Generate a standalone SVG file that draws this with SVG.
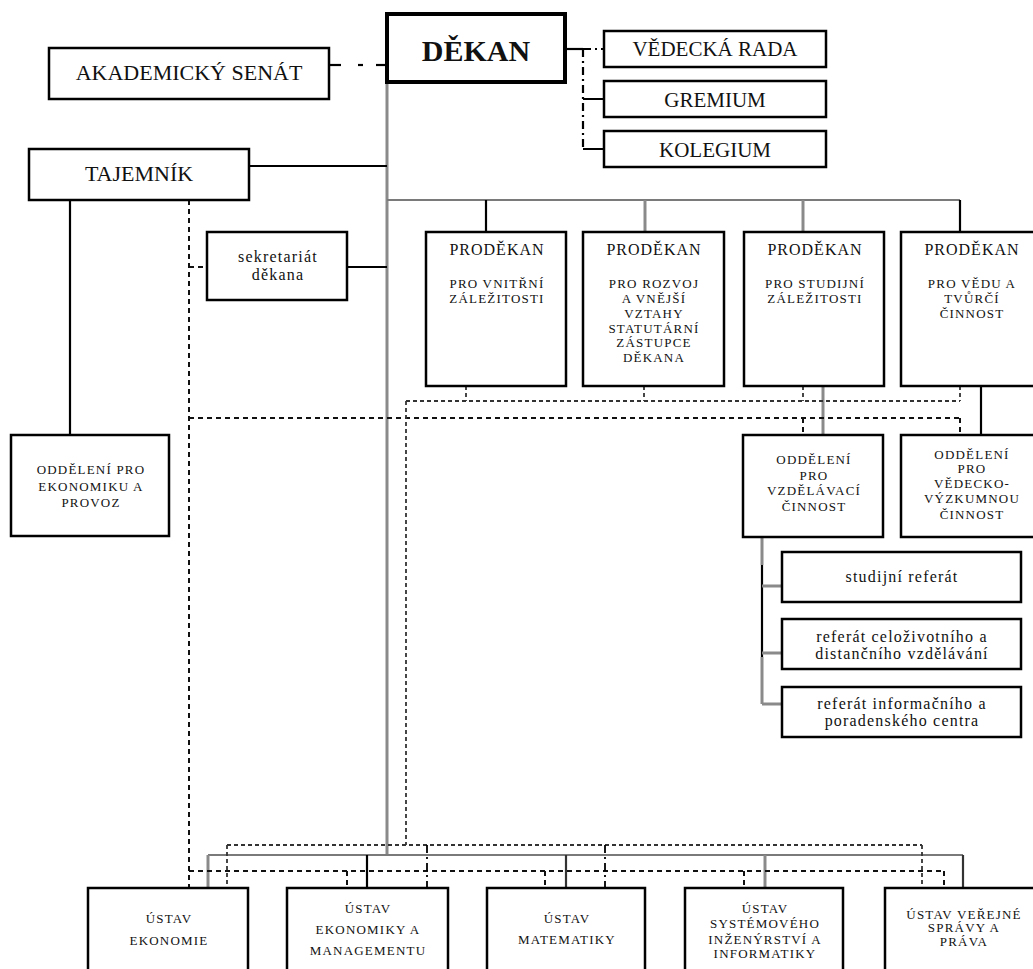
<svg xmlns="http://www.w3.org/2000/svg" width="1033" height="969" viewBox="0 0 1033 969">
<style>
.box{fill:#fff;stroke:#000;stroke-width:2.5}
.t{font-family:"Liberation Serif","Times New Roman",serif;fill:#111;text-anchor:middle}
.big{font-size:22px}
.pd{font-size:16px;letter-spacing:1px}
.sm{font-size:13px;letter-spacing:1.2px}
.lc{font-size:16px;letter-spacing:1.2px}
.k{fill:none;stroke:#000;stroke-width:2.2}
.g{fill:none;stroke:#8a8a8a;stroke-width:3}
.gt{fill:none;stroke:#7a7a7a;stroke-width:2}
.d1{fill:none;stroke:#111;stroke-width:2;stroke-dasharray:5 4}
.d2{fill:none;stroke:#333;stroke-width:1.8;stroke-dasharray:4 3}
.dd{fill:none;stroke:#000;stroke-width:2.2;stroke-dasharray:8 4 2 4}
</style>
<rect width="1033" height="969" fill="#fff"/>
<g id="connectors">
  <path class="k" d="M329 65 H341"/>
  <path class="k" d="M358 65 H363"/>
  <path class="k" d="M376 65 H387"/>
  <path class="k" d="M565 49 H583"/>
  <path class="dd" d="M583 49 H604"/>
  <path class="dd" d="M583 49 V149"/>
  <path class="k" d="M583 99 H604 M583 149 H604"/>
  <path class="g" d="M387 82 V855"/>
  <path class="k" d="M249 166 H387"/>
  <path class="k" d="M347 267 H387"/>
  <path class="k" d="M70 200 V435"/>
  <path class="gt" d="M387 200 H960"/>
  <path class="k" d="M486 200 V232"/>
  <path class="g" d="M645 200 V232"/>
  <path class="g" d="M803 200 V232"/>
  <path class="k" d="M960 200 V232"/>
  <path class="g" d="M823 386 V435"/>
  <path class="k" d="M981 386 V435"/>
  <path class="g" d="M762 537 V565"/>
  <path class="k" d="M762 565 V657"/>
  <path class="g" d="M762 657 V704"/>
  <path class="g" d="M762 586 H782 M762 653 H782 M762 704 H782"/>
  <path class="gt" d="M208 855 H963"/>
  <path class="g" d="M208 855 V888"/>
  <path class="k" d="M367 855 V888"/>
  <path class="k" d="M566 855 V888" style="stroke:#333"/>
  <path class="g" d="M765 855 V888"/>
  <path class="k" d="M963 855 V888" style="stroke:#333"/>
  <path class="d1" d="M189 200 V888"/>
  <path class="d1" d="M189 267 H207"/>
  <path class="d1" d="M189 418 H960"/>
  <path class="d1" d="M803 418 V435 M960 418 V435"/>
  <path class="d1" d="M189 871 H944"/>
  <path class="d1" d="M347 871 V888 M545 871 V888 M744 871 V888 M944 871 V888"/>
  <path class="d2" d="M466 386 V401 M644 386 V401 M803 386 V401 M960 386 V401"/>
  <path class="d2" d="M406 401 H960"/>
  <path class="d2" d="M406 401 V845"/>
  <path class="d2" d="M227 845 H922"/>
  <path class="d2" d="M227 845 V888 M922 845 V888"/>
  <path class="dd" d="M427 845 V888 M605 845 V888" style="stroke-width:1.8"/>
</g>
<g id="akademicky-senat">
  <rect class="box" x="49" y="48" width="280" height="51"/>
  <text class="t big" x="189" y="80">AKADEMICKÝ SENÁT</text>
</g>
<g id="dekan">
  <rect class="box" x="387" y="14" width="178" height="68" style="stroke-width:4"/>
  <text class="t" x="476" y="61" style="font-size:30px;font-weight:bold">DĚKAN</text>
</g>
<g id="vedecka-rada">
  <rect class="box" x="604" y="31" width="222" height="36"/>
  <text class="t" x="715" y="56" style="font-size:21px">VĚDECKÁ RADA</text>
</g>
<g id="gremium">
  <rect class="box" x="604" y="81" width="222" height="36"/>
  <text class="t" x="715" y="107" style="font-size:21px">GREMIUM</text>
</g>
<g id="kolegium">
  <rect class="box" x="604" y="131" width="222" height="36"/>
  <text class="t" x="715" y="157" style="font-size:21px">KOLEGIUM</text>
</g>
<g id="tajemnik">
  <rect class="box" x="29" y="149" width="220" height="51"/>
  <text class="t big" x="139" y="181">TAJEMNÍK</text>
</g>
<g id="sekretariat">
  <rect class="box" x="207" y="232" width="140" height="68"/>
  <text class="t lc" x="278" y="262">sekretariát</text>
  <text class="t lc" x="278" y="280">děkana</text>
</g>
<g id="prodekan-vnitrni">
  <rect class="box" x="426" y="232" width="140" height="154"/>
  <text class="t pd" x="497" y="255">PRODĚKAN</text>
  <text class="t sm" x="497" y="288">PRO VNITŘNÍ</text>
  <text class="t sm" x="497" y="303">ZÁLEŽITOSTI</text>
</g>
<g id="prodekan-rozvoj">
  <rect class="box" x="583" y="232" width="141" height="154"/>
  <text class="t pd" x="654" y="255">PRODĚKAN</text>
  <text class="t sm" x="654" y="288">PRO ROZVOJ</text>
  <text class="t sm" x="654" y="303">A VNĚJŠÍ</text>
  <text class="t sm" x="654" y="318">VZTAHY</text>
  <text class="t sm" x="654" y="333">STATUTÁRNÍ</text>
  <text class="t sm" x="654" y="347">ZÁSTUPCE</text>
  <text class="t sm" x="654" y="362">DĚKANA</text>
</g>
<g id="prodekan-studijni">
  <rect class="box" x="744" y="232" width="140" height="154"/>
  <text class="t pd" x="815" y="255">PRODĚKAN</text>
  <text class="t sm" x="815" y="288">PRO STUDIJNÍ</text>
  <text class="t sm" x="815" y="303">ZÁLEŽITOSTI</text>
</g>
<g id="prodekan-veda">
  <rect class="box" x="901" y="232" width="140" height="154"/>
  <text class="t pd" x="972" y="255">PRODĚKAN</text>
  <text class="t sm" x="972" y="288">PRO VĚDU A</text>
  <text class="t sm" x="972" y="303">TVŮRČÍ</text>
  <text class="t sm" x="972" y="318">ČINNOST</text>
</g>
<g id="oddeleni-ekonomika">
  <rect class="box" x="11" y="435" width="158" height="101"/>
  <text class="t sm" x="91" y="474">ODDĚLENÍ PRO</text>
  <text class="t sm" x="91" y="491">EKONOMIKU A</text>
  <text class="t sm" x="91" y="507">PROVOZ</text>
</g>
<g id="oddeleni-vzdelavaci">
  <rect class="box" x="743" y="435" width="140" height="102"/>
  <text class="t sm" x="814" y="464">ODDĚLENÍ</text>
  <text class="t sm" x="814" y="480">PRO</text>
  <text class="t sm" x="814" y="495">VZDĚLÁVACÍ</text>
  <text class="t sm" x="814" y="511">ČINNOST</text>
</g>
<g id="oddeleni-vedecko">
  <rect class="box" x="901" y="435" width="140" height="102"/>
  <text class="t sm" x="972" y="459">ODDĚLENÍ</text>
  <text class="t sm" x="972" y="473">PRO</text>
  <text class="t sm" x="972" y="488">VĚDECKO-</text>
  <text class="t sm" x="972" y="503">VÝZKUMNOU</text>
  <text class="t sm" x="972" y="519">ČINNOST</text>
</g>
<g id="studijni-referat">
  <rect class="box" x="782" y="552" width="239" height="50"/>
  <text class="t lc" x="902" y="582">studijní referát</text>
</g>
<g id="referat-celozivotniho">
  <rect class="box" x="782" y="619" width="239" height="50"/>
  <text class="t lc" x="902" y="642">referát celoživotního a</text>
  <text class="t lc" x="902" y="659">distančního vzdělávání</text>
</g>
<g id="referat-informacniho">
  <rect class="box" x="782" y="687" width="239" height="50"/>
  <text class="t lc" x="902" y="709">referát informačního a</text>
  <text class="t lc" x="902" y="726">poradenského centra</text>
</g>
<g id="ustav-ekonomie">
  <rect class="box" x="88" y="888" width="160" height="100"/>
  <text class="t sm" x="169" y="923">ÚSTAV</text>
  <text class="t sm" x="169" y="945">EKONOMIE</text>
</g>
<g id="ustav-ekonomiky">
  <rect class="box" x="287" y="888" width="161" height="100"/>
  <text class="t sm" x="368" y="913">ÚSTAV</text>
  <text class="t sm" x="368" y="934">EKONOMIKY A</text>
  <text class="t sm" x="368" y="955">MANAGEMENTU</text>
</g>
<g id="ustav-matematiky">
  <rect class="box" x="487" y="888" width="158" height="100"/>
  <text class="t sm" x="567" y="923">ÚSTAV</text>
  <text class="t sm" x="567" y="944">MATEMATIKY</text>
</g>
<g id="ustav-systemoveho">
  <rect class="box" x="685" y="888" width="158" height="100"/>
  <text class="t sm" x="765" y="913">ÚSTAV</text>
  <text class="t sm" x="765" y="928">SYSTÉMOVÉHO</text>
  <text class="t sm" x="765" y="944">INŽENÝRSTVÍ A</text>
  <text class="t sm" x="765" y="958">INFORMATIKY</text>
</g>
<g id="ustav-verejne">
  <rect class="box" x="885" y="888" width="156" height="100"/>
  <text class="t sm" x="964" y="919">ÚSTAV VEŘEJNÉ</text>
  <text class="t sm" x="964" y="932">SPRÁVY A</text>
  <text class="t sm" x="964" y="946">PRÁVA</text>
</g>
</svg>
